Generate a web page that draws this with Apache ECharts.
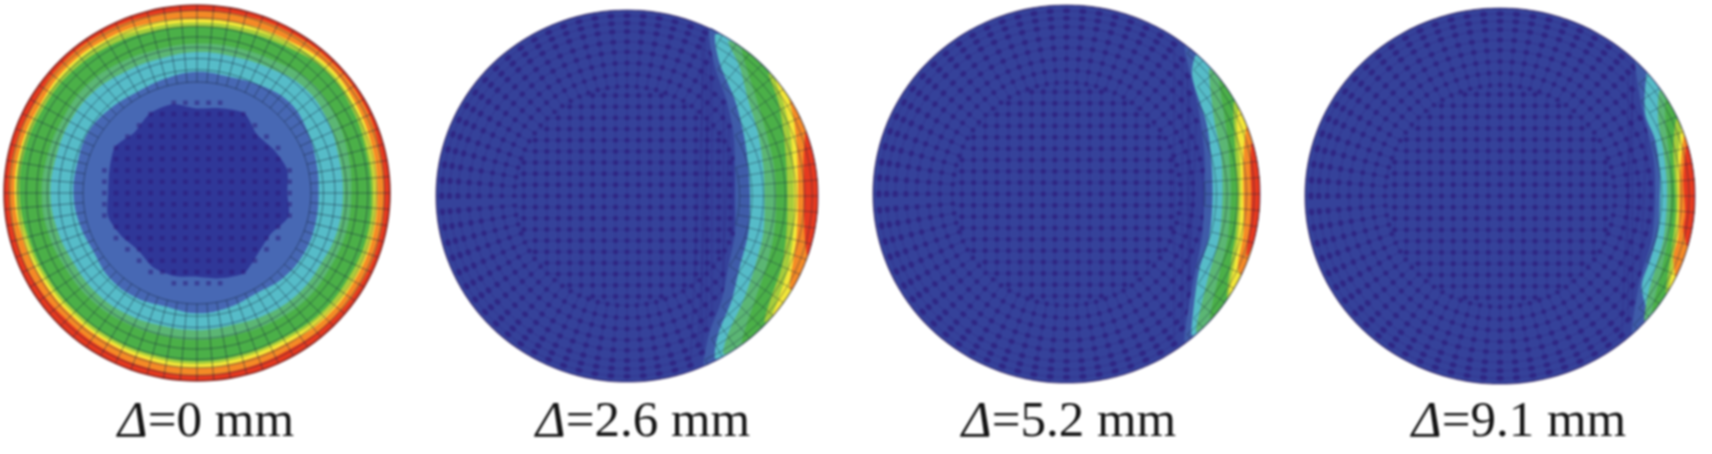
<!DOCTYPE html>
<html>
<head>
<meta charset="utf-8">
<style>
html,body{margin:0;padding:0;background:#fff}
#main{width:1712px;height:454px;filter:blur(0.9px)}
</style>
<script src="https://cdn.jsdelivr.net/npm/echarts@6/dist/echarts.min.js"></script>
</head>
<body>
<div id="main"></div>
<script>
// ---- labels ----
const labelValues = ['0', '2.6', '5.2', '9.1'];
const labelCenters = [206, 643, 1069, 1519];

// ---- disc placement (pixel bounding boxes) ----
const discLeft = [4, 436, 873, 1305];
const discTop = [5, 10, 5, 8];
const discWidth = [386, 382, 387, 390];
const discHeight = [376, 372, 378, 376];

// ---- contour colours, inner to outer ----
const baseBlue = '#35429a';
const colMidDisc1 = '#4768b4';
const colMid = '#3f5ca9';
const colCyan = '#56bcc8';
const colFoam = '#5bb674';
const colGreen = '#4bb048';
const colLime = '#a4cc3c';
const colYellow = '#f3e638';
const colOrange = '#f48a26';
const colRed = '#e5391f';

// ---- disc 1: contour radius per angle (degrees, normalized radius) ----
const d1Angles = [0,15,30,45,60,75,90,105,120,135,150,165,180,195,210,225,240,255,270,285,300,315,330,345];
const d1Dark = [.468,.483,.46,.44,.49,.467,.45,.489,.488,.457,.49,.47,.46,.477,.454,.43,.456,.457,.445,.47,.49,.45,.44,.49];
const d1Mid = [.63,.64,.66,.68,.66,.64,.645,.63,.62,.635,.65,.64,.64,.63,.62,.64,.64,.625,.64,.63,.615,.635,.64,.635];
const d1Cyan = [.757,.76,.78,.79,.765,.75,.75,.74,.745,.76,.76,.755,.76,.75,.74,.745,.74,.73,.73,.725,.74,.75,.745,.755];
const d1Foam = [.80,.81,.825,.835,.81,.80,.795,.79,.80,.81,.80,.80,.805,.80,.79,.79,.785,.78,.78,.78,.79,.80,.795,.80];
const d1Green = [.905,.905,.92,.93,.905,.89,.885,.89,.905,.915,.915,.92,.92,.905,.895,.89,.89,.89,.895,.89,.89,.905,.905,.91];
const d1Lime = [.92,.92,.935,.945,.925,.91,.905,.91,.93,.935,.93,.935,.935,.92,.91,.905,.905,.905,.91,.905,.905,.92,.925,.925];
const d1Yellow = [.935,.94,.95,.96,.94,.93,.925,.935,.945,.95,.94,.945,.945,.935,.925,.92,.92,.925,.93,.925,.925,.94,.94,.94];
const d1Orange = [.97,.975,.985,.985,.98,.975,.97,.975,.98,.98,.97,.975,.975,.97,.965,.955,.96,.965,.97,.965,.96,.97,.975,.975];

// ---- discs 2-4: contour curves [x, y] from top to bottom (normalized) ----
const d2Mid = [[.43,.90],[.46,.695],[.52,.516],[.557,.337],[.565,.158],[.565,-.02],[.565,-.2],[.53,-.38],[.495,-.56],[.43,-.74],[.40,-.91]];
const d2Cyan = [[.46,.866],[.487,.71],[.565,.516],[.61,.337],[.635,.158],[.644,-.02],[.635,-.2],[.59,-.38],[.548,-.56],[.478,-.74],[.46,-.873]];
const d2Foam = [[.53,.83],[.59,.695],[.635,.516],[.687,.337],[.714,.158],[.72,-.02],[.714,-.2],[.67,-.38],[.61,-.56],[.53,-.74],[.505,-.85]];
const d2Green = [[.60,.79],[.68,.516],[.73,.337],[.77,.158],[.78,-.02],[.77,-.2],[.73,-.38],[.67,-.56],[.60,-.79]];
const d2Lime = [[.74,.66],[.79,.516],[.82,.337],[.835,.158],[.84,-.02],[.835,-.2],[.81,-.38],[.75,-.56],[.72,-.68]];
const d2Yellow = [[.78,.62],[.82,.50],[.855,.337],[.87,.158],[.875,-.02],[.87,-.2],[.845,-.38],[.79,-.56],[.76,-.64]];
const d2Orange = [[.85,.52],[.875,.40],[.89,.25],[.895,.10],[.895,-.02],[.89,-.2],[.87,-.35],[.85,-.50]];
const d2Red = [[.935,.35],[.925,.2],[.925,0],[.93,-.2],[.945,-.32]];

const d3Mid = [[.608,.78],[.677,.48],[.712,.215],[.712,0],[.70,-.226],[.65,-.49],[.608,-.78]];
const d3Cyan = [[.668,.735],[.65,.62],[.72,.39],[.746,.215],[.755,0],[.738,-.226],[.686,-.40],[.65,-.667],[.65,-.75]];
const d3Foam = [[.737,.66],[.764,.39],[.798,.215],[.807,0],[.79,-.226],[.738,-.42],[.695,-.596],[.67,-.73]];
const d3Green = [[.79,.60],[.82,.39],[.84,.215],[.85,0],[.835,-.226],[.79,-.42],[.74,-.66]];
const d3Lime = [[.867,.49],[.867,.34],[.875,.18],[.885,0],[.875,-.21],[.857,-.314],[.83,-.55]];
const d3Yellow = [[.89,.45],[.88,.36],[.895,.2],[.90,0],[.89,-.2],[.87,-.35],[.84,-.53]];
const d3Orange = [[.93,.36],[.915,.2],[.915,0],[.915,-.2],[.885,-.39],[.90,-.43]];
const d3Red = [[.956,.27],[.95,.15],[.955,0],[.95,-.15],[.93,-.33]];

const d4Mid = [[.692,.715],[.726,.475],[.786,.21],[.795,0],[.778,-.234],[.718,-.447],[.675,-.73]];
const d4Cyan = [[.752,.655],[.744,.44],[.795,.30],[.82,.12],[.82,0],[.812,-.18],[.77,-.34],[.727,-.48],[.77,-.63]];
const d4Foam = [[.82,.565],[.812,.40],[.838,.245],[.855,.085],[.855,-.057],[.838,-.234],[.795,-.394],[.76,-.518],[.74,-.665]];
const d4Green = [[.85,.52],[.85,.38],[.87,.2],[.875,0],[.865,-.2],[.83,-.39],[.78,-.62]];
const d4Lime = [[.906,.41],[.889,.245],[.897,.085],[.902,-.057],[.889,-.216],[.872,-.34],[.85,-.52]];
const d4Yellow = [[.93,.36],[.91,.15],[.915,0],[.905,-.2],[.89,-.34],[.87,-.49]];
const d4Orange = [[.945,.32],[.923,.12],[.92,-.057],[.915,-.216],[.889,-.32],[.90,-.43]];
const d4Red = [[.955,.27],[.94,.085],[.95,-.09],[.94,-.18],[.96,-.27]];

// ---- element mesh ----
const meshRings = [.59,.655,.715,.775,.83,.885,.93,.97];
const meshSpokes = [0,5,10,15,20,25,30,35,40,45,50,55,60,65,70,75,80,85,90,95,100,105,110,115,120,125,130,135,140,145,150,155,160,165,170,175,180,185,190,195,200,205,210,215,220,225,230,235,240,245,250,255,260,265,270,275,280,285,290,295,300,305,310,315,320,325,330,335,340,345,350,355];
const innerGrid = [-.54,-.48,-.42,-.36,-.30,-.24,-.18,-.12,-.06,0,.06,.12,.18,.24,.30,.36,.42,.48,.54];

const rad = a => a * Math.PI / 180;
const onRing = (r, a) => [r * Math.cos(rad(a)), r * Math.sin(rad(a))];
const polarPts = (radii) => d1Angles.map((a, i) => onRing(radii[i], a));
const ringPts = (r) => meshSpokes.map(a => onRing(r, a));

function crescent(curve) {
  const pts = curve.slice();
  const first = curve[0], last = curve[curve.length - 1];
  const a0 = Math.atan2(last[1], last[0]) * 180 / Math.PI;
  const a1 = Math.atan2(first[1], first[0]) * 180 / Math.PI;
  meshSpokes.map(a => (a > 180 ? a - 360 : a)).sort((p, q) => p - q).forEach(a => {
    if (a > a0 && a < a1) pts.push(onRing(1, a));
  });
  return pts;
}

function curveX(curve, y) {
  for (let i = 0; i + 1 < curve.length; i++) {
    const p = curve[i], q = curve[i + 1];
    if (y <= p[1] && y >= q[1]) return p[0] + (q[0] - p[0]) * (p[1] - y) / (p[1] - q[1]);
  }
  return Infinity;
}

const specks = (keep, colour, wireColour) => {
  const out = [];
  const h = .012;
  innerGrid.forEach((x) => {
    const ext = Math.sqrt(Math.max(0, .34 - x * x));
    if (wireColour) {
      out.push({ kind: 'line', pts: [[x, -ext], [x, ext]], stroke: wireColour, width: 2 });
      out.push({ kind: 'line', pts: [[-ext, x], [ext, x]], stroke: wireColour, width: 2 });
    }
    innerGrid.forEach((y) => {
      if (x * x + y * y < .34 && keep([x, y])) {
        out.push({ kind: 'fill', pts: [[x - h, y - h], [x + h, y - h], [x + h, y + h], [x - h, y + h]], color: colour });
      }
    });
  });
  meshRings.forEach((r) => meshSpokes.forEach((a) => {
    if (keep(onRing(r, a))) {
      out.push({ kind: 'fill', pts: [onRing(r - .012, a - 1), onRing(r + .012, a - 1), onRing(r + .012, a + 1), onRing(r - .012, a + 1)], color: colour });
    }
  }));
  return out;
};

const wires = (keep, stroke) => {
  const out = [];
  meshRings.forEach(r => {
    const pts = ringPts(r).filter(keep);
    if (pts.length > 1) out.push({ kind: pts.length === meshSpokes.length ? 'ring' : 'line', pts: pts.length === meshSpokes.length ? pts : pts.slice().sort((p, q) => Math.atan2(q[1], q[0]) - Math.atan2(p[1], p[0])), stroke, width: 1 });
  });
  meshSpokes.forEach(a => {
    const pts = meshRings.concat([1]).map(r => onRing(r, a)).filter(keep);
    if (pts.length > 1) out.push({ kind: 'line', pts, stroke, width: 1 });
  });
  return out;
};

const fill = (pts, color, smooth) => ({ kind: 'fill', pts, color, smooth });
const rim = ringPts(1);
const outline = (c, w) => ({ kind: 'ring', pts: rim, stroke: c, width: w });

function crescentDisc(m, c, fo, g, l, y, o, r) {
  const inColour = p => p[0] >= curveX(m, p[1]);
  const notColour = p => !inColour(p);
  return [
    fill(rim, baseBlue, .4)
  ].concat(wires(notColour, 'rgba(44,22,118,.28)'), specks(notColour, 'rgba(44,22,118,.55)', 'rgba(44,22,118,.14)'), [
    fill(crescent(m), colMid, .3), fill(crescent(c), colCyan, .3), fill(crescent(fo), colFoam, .3),
    fill(crescent(g), colGreen, .3), fill(crescent(l), colLime, .3), fill(crescent(y), colYellow, .3),
    fill(crescent(o), colOrange, .3), fill(crescent(r), colRed, .3)
  ], wires(inColour, 'rgba(20,35,60,.42)'), [outline('rgba(45,25,80,.6)', 1.2)]);
}

const layers = [
  [
    fill(rim, colRed, .4),
    fill(polarPts(d1Orange), colOrange, .4), fill(polarPts(d1Yellow), colYellow, .4), fill(polarPts(d1Lime), colLime, .4),
    fill(polarPts(d1Green), colGreen, .4), fill(polarPts(d1Foam), colFoam, .4), fill(polarPts(d1Cyan), colCyan, .4),
    fill(polarPts(d1Mid), colMidDisc1, .4), fill(polarPts(d1Dark), '#2f3798', .25)
  ].concat(specks(p => Math.hypot(p[0], p[1]) < .5, 'rgba(44,22,118,.5)', null),
           wires(p => Math.hypot(p[0], p[1]) > .55, 'rgba(20,35,60,.5)'),
           [outline('rgba(110,25,25,.8)', 1.6)]),
  crescentDisc(d2Mid, d2Cyan, d2Foam, d2Green, d2Lime, d2Yellow, d2Orange, d2Red),
  crescentDisc(d3Mid, d3Cyan, d3Foam, d3Green, d3Lime, d3Yellow, d3Orange, d3Red),
  crescentDisc(d4Mid, d4Cyan, d4Foam, d4Green, d4Lime, d4Yellow, d4Orange, d4Red)
];

const renderer = (disc) => (params, api) => {
  const l = layers[disc][params.dataIndex];
  const pts = l.pts.map(p => api.coord(p));
  if (l.kind === 'fill') {
    return { type: 'polygon', silent: true, shape: { points: pts, smooth: l.smooth || 0 }, style: { fill: l.color } };
  }
  if (l.kind === 'ring') {
    return { type: 'polygon', silent: true, shape: { points: pts, smooth: .4 }, style: { fill: 'none', stroke: l.stroke, lineWidth: l.width } };
  }
  return { type: 'polyline', silent: true, shape: { points: pts }, style: { fill: 'none', stroke: l.stroke, lineWidth: l.width } };
};

const chart = echarts.init(document.getElementById('main'));
chart.setOption({
  animation: false,
  backgroundColor: '#fff',
  title: labelValues.map((v, i) => ({
    text: '{i|\u0394}{r|=' + v + ' mm}',
    left: labelCenters[i], top: 397, textAlign: 'center', padding: 0,
    textStyle: {
      fontWeight: 'normal',
      rich: {
        i: { fontFamily: 'Liberation Serif', fontStyle: 'italic', fontWeight: 'normal', fontSize: 51, color: '#141414' },
        r: { fontFamily: 'Liberation Serif', fontWeight: 'normal', fontSize: 51, color: '#141414' }
      }
    }
  })),
  grid: labelValues.map((v, i) => ({ left: discLeft[i], top: discTop[i], width: discWidth[i], height: discHeight[i], show: false })),
  xAxis: labelValues.map((v, i) => ({ type: 'value', gridIndex: i, min: -1, max: 1, show: false })),
  yAxis: labelValues.map((v, i) => ({ type: 'value', gridIndex: i, min: -1, max: 1, show: false })),
  series: labelValues.map((v, i) => ({
    type: 'custom', xAxisIndex: i, yAxisIndex: i, clip: false, silent: true,
    data: layers[i].map((l, k) => [k]),
    encode: { x: [], y: [] },
    renderItem: renderer(i)
  }))
});
</script>
</body>
</html>
